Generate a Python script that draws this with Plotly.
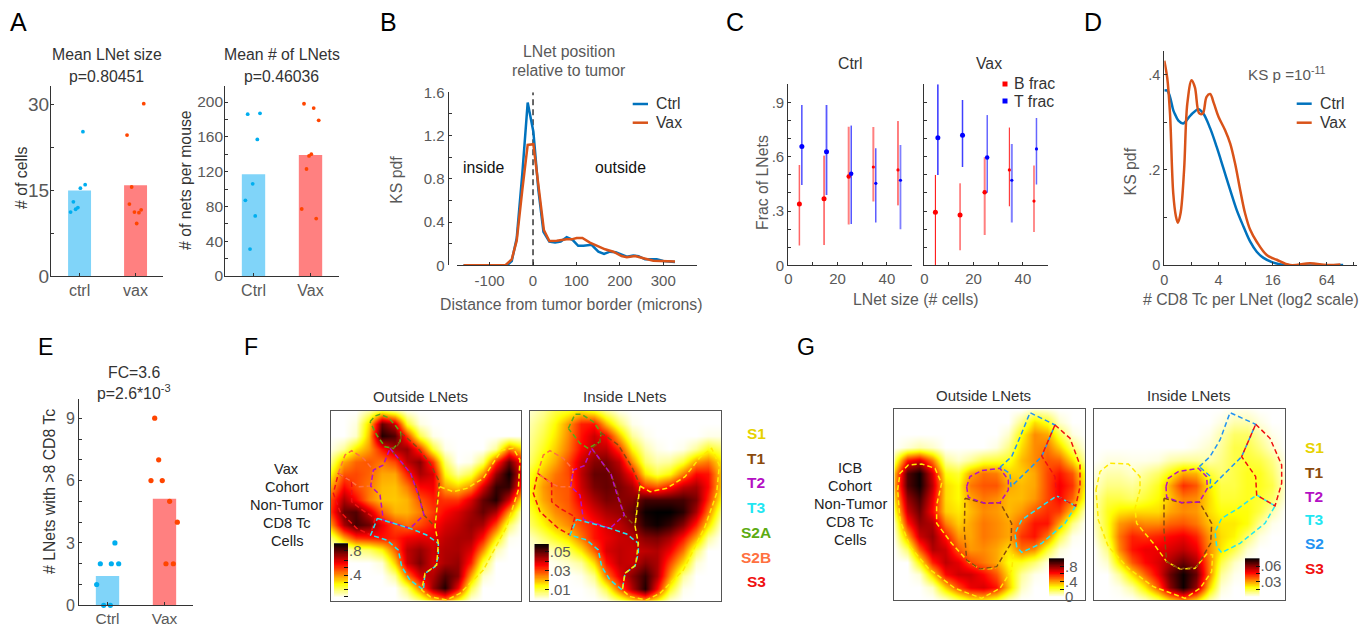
import plotly.graph_objects as go

W, H = 1366, 626
FONT = "Liberation Sans"
GREY, DARK = "#595959", "#333333"
BAR_CTRL, BAR_VAX = "#80D4F9", "#FF8080"
DOT_CTRL, DOT_VAX = "#00AEEF", "#FF4500"
LINE_CTRL, LINE_VAX = "#0072BD", "#D95319"

# ---------- Panel A
A1_cats = ["ctrl", "vax"]
A1_means = [15.0, 15.9]
A1_ctrl_x = [1.06, 1.10, 1.015, 0.89, 0.97, 0.93, 0.84]
A1_ctrl_y = [25.3, 16.0, 15.4, 13.0, 12.0, 11.7, 11.2]
A1_vax_x = [2.146, 1.848, 1.93, 1.89, 1.98, 2.06, 2.10, 2.02]
A1_vax_y = [30.2, 24.7, 15.6, 12.6, 11.2, 11.1, 11.6, 9.2]
A2_cats = ["Ctrl", "Vax"]
A2_means = [117, 139]
A2_ctrl_x = [0.898, 1.114, 1.067, 0.986, 0.857, 1.03, 0.939]
A2_ctrl_y = [186, 187, 157, 106, 87, 69, 31]
A2_vax_x = [1.886, 2.056, 2.144, 2.014, 1.974, 1.93, 1.846, 2.10]
A2_vax_y = [198, 193, 179, 140, 138, 123, 77, 66]

# ---------- Panel B
B_ctrl_x = [-160, -60, -49, -37.6, -24.6, -12.3, 0.8, 12.3, 24, 37.6, 50.7, 63.7, 77.6, 91, 104, 116, 135, 150.5, 163.6, 177, 190.5, 216, 231, 243, 258, 285, 300, 327]
B_ctrl_y = [0, 0, .04, .25, .85, 1.505, 1.236, .70, .31, .22, .21, .22, .26, .235, .18, .18, .19, .126, .105, .126, .12, .08, .09, .085, .055, .055, .04, .03]
B_vax_x = [-160, -64, -49, -37.6, -24.6, -12.3, 0.8, 12.3, 25, 37.6, 54.5, 77.6, 89, 100.6, 113.7, 131, 147, 166, 185, 204, 216, 235, 250, 277, 327]
B_vax_y = [0, 0, .055, .228, .70, 1.113, 1.12, .743, .327, .225, .228, .24, .24, .253, .253, .21, .182, .148, .126, .086, .074, .086, .07, .043, .034]
B_border_x = [0, 0]
B_border_y = [0, 1.6]

# ---------- Panel C
C_b_x = [4.5, 14.5, 24.5, 34.5, 44.5]
C_t_x = [5.5, 15.5, 25.5, 35.5, 45.5]
C1_b_mean = [.339, .368, .49, .543, .527]
C1_b_hi = [.554, .606, .766, .764, .797]
C1_b_lo = [.109, .112, .225, .352, .331]
C1_t_mean = [.656, .628, .506, .453, .47]
C1_t_hi = [.886, .886, .772, .646, .665]
C1_t_lo = [.444, .389, .228, .236, .199]
C2_b_mean = [.293, .278, .403, .527, .355]
C2_b_hi = [.499, .453, .597, .761, .552]
C2_b_lo = [0, .083, .168, .326, .184]
C2_t_mean = [.705, .718, .595, .47, .643]
C2_t_hi = [1.0, .913, .83, .67, .814]
C2_t_lo = [.499, .543, .401, .236, .446]

# ---------- Panel D (x in log2 units)
D_ctrl_x = [0, .11, .21, .33, .39, .52, .70, .97, 1.26, 1.44, 1.69, 1.93, 2.18, 2.43, 2.67, 2.92, 3.17, 3.41, 3.66, 4.03, 4.5, 6.6]
D_ctrl_y = [.367, .367, .354, .326, .318, .304, .298, .315, .328, .319, .288, .249, .204, .158, .116, .081, .049, .028, .015, .005, 0, 0]
D_vax_x = [0, .11, .21, .33, .43, .5, .6, .73, .85, 1.01, 1.13, 1.29, 1.42, 1.56, 1.69, 1.83, 2, 2.24, 2.43, 2.61, 2.8, 2.98, 3.17, 3.41, 3.78, 4.15, 4.64, 5.38, 6, 6.5]
D_vax_y = [.43, .393, .319, .151, .102, .089, .109, .2, .34, .389, .374, .319, .319, .354, .36, .34, .312, .284, .256, .214, .158, .109, .074, .049, .021, .011, 0, .0035, 0, .001]

# ---------- Panel E
E_cats = ["Ctrl", "Vax"]
E_means = [1.41, 5.12]
E_ctrl_x = [1.13, .874, 1.067, 1.196, .81, .933, 1.05]
E_ctrl_y = [3, 2, 2, 2, 1, 0, 0]
E_vax_x = [1.828, 1.898, 1.763, 1.961, 2.09, 2.225, 2.026, 2.155]
E_vax_y = [9, 7, 6, 6, 5, 4, 2, 2]

# ---------- Density grids, values are 0-100 of each map's colour range
F1_heat = [
 [0,0,0,8,20,12,2,0,0,0,0,0,0,0,0,0],
 [0,0,3,30,85,70,22,3,0,0,0,0,0,0,0,0],
 [0,0,5,35,95,88,55,18,2,0,0,0,0,0,0,0],
 [2,10,28,40,60,75,78,55,20,2,0,0,0,10,45,30],
 [12,38,48,50,45,52,72,80,55,15,0,2,15,55,85,60],
 [25,50,52,48,38,38,58,75,68,25,10,18,42,78,98,65],
 [38,62,52,45,35,34,44,62,64,38,32,42,68,92,92,55],
 [52,75,62,44,34,33,36,50,58,55,55,68,85,95,70,25],
 [55,85,88,70,48,36,36,44,54,62,68,76,85,75,40,5],
 [40,75,90,84,65,52,46,52,60,68,72,78,75,52,15,0],
 [12,38,55,58,60,58,64,66,66,72,75,75,60,28,2,0],
 [0,4,12,15,25,48,72,78,70,74,75,68,42,8,0,0],
 [0,0,0,0,4,32,70,82,68,75,78,58,20,0,0,0],
 [0,0,0,0,0,10,45,68,74,88,80,38,5,0,0,0],
 [0,0,0,0,0,0,15,45,78,95,65,18,0,0,0,0],
 [0,0,0,0,0,0,2,12,30,40,22,2,0,0,0,0],
]
F2_heat = [
 [5,10,18,22,28,22,10,2,0,0,0,0,0,0,0,0],
 [8,15,25,40,58,60,35,15,2,0,0,0,0,0,0,0],
 [10,18,28,42,60,70,62,35,10,2,0,0,0,0,2,2],
 [12,22,32,45,62,72,72,55,25,8,2,0,2,10,22,15],
 [15,28,38,52,70,80,82,72,42,15,8,10,20,40,45,28],
 [22,35,45,52,72,85,85,78,62,28,18,25,45,62,60,32],
 [25,40,48,50,70,82,85,82,75,55,50,60,72,76,62,32],
 [25,38,46,50,65,75,82,80,80,90,90,90,90,82,56,24],
 [20,32,42,48,58,68,75,78,85,98,100,100,94,75,45,12],
 [15,25,35,42,52,60,68,72,80,94,98,92,80,58,30,4],
 [6,14,22,30,45,60,65,70,72,80,82,75,60,38,10,0],
 [2,5,8,15,28,48,68,72,70,72,74,64,45,15,0,0],
 [0,0,2,5,10,30,60,72,70,80,75,52,30,4,0,0],
 [0,0,0,0,2,12,45,65,80,92,75,40,10,0,0,0],
 [0,0,0,0,0,3,18,48,74,95,62,22,2,0,0,0],
 [0,0,0,0,0,0,3,14,28,36,24,4,0,0,0,0],
]
G1_heat = [
 [0,0,0,0,0,0,0,0,0,0,0,5,3,0,0,0],
 [0,0,0,0,0,0,0,0,0,0,12,30,22,5,0,0],
 [0,0,0,0,0,0,0,0,0,5,25,42,38,18,3,0],
 [0,4,8,5,0,0,0,0,3,12,30,42,45,32,14,2],
 [15,60,68,45,10,5,10,18,20,22,35,42,50,48,30,8],
 [35,88,98,68,24,20,38,46,44,32,32,38,52,60,50,22],
 [38,88,98,72,30,25,45,50,50,38,35,38,52,64,55,25],
 [30,78,90,66,30,25,38,45,42,35,35,40,52,62,48,20],
 [20,70,84,62,32,28,35,42,40,35,40,50,56,54,32,5],
 [8,58,78,74,44,32,38,45,42,38,48,60,60,38,12,0],
 [3,38,70,78,60,40,38,45,42,38,55,60,45,18,2,0],
 [0,15,50,74,70,50,40,42,38,30,46,42,20,4,0,0],
 [0,0,25,58,72,66,52,45,38,24,22,14,3,0,0,0],
 [0,0,4,32,62,70,70,62,50,30,10,2,0,0,0,0],
 [0,0,0,6,32,52,65,68,60,34,6,0,0,0,0,0],
 [0,0,0,0,4,15,25,28,20,6,0,0,0,0,0,0],
]
G2_heat = [
 [0,0,0,0,0,0,0,0,0,0,0,2,2,0,0,0],
 [0,0,0,0,0,0,0,0,0,0,3,8,8,3,0,0],
 [0,0,0,0,0,0,0,0,0,2,8,15,15,8,2,0],
 [0,0,0,0,0,0,0,0,2,5,10,18,18,12,5,0],
 [0,3,3,2,2,3,8,10,10,8,12,18,20,18,12,2],
 [3,8,8,5,10,15,25,38,36,20,14,18,22,22,15,3],
 [5,12,12,10,15,22,38,56,50,28,18,18,22,22,18,4],
 [8,18,18,15,20,25,34,44,42,30,20,20,22,20,15,3],
 [8,22,28,30,30,30,38,42,40,30,24,24,24,18,8,0],
 [6,22,40,45,42,42,48,50,45,34,28,28,24,10,2,0],
 [3,20,45,58,55,58,62,65,58,40,30,26,14,3,0,0],
 [0,12,42,60,65,65,68,72,65,42,28,18,5,0,0,0],
 [0,5,28,50,62,68,75,85,75,45,18,6,0,0,0,0],
 [0,0,10,30,48,65,85,98,85,45,10,2,0,0,0,0],
 [0,0,2,10,28,50,80,98,78,32,4,0,0,0,0,0],
 [0,0,0,0,5,15,30,42,30,8,0,0,0,0,0,0],
]

# ---------- Region outlines, in each map's own coordinates
F1_S1 = [(360,320),(400,335),(440,325),(490,295),(545,210),(580,205),(600,240),(595,330),(560,440),(490,570),(420,640),(380,660),(330,650),(305,630),(315,580),(350,555),(355,490),(345,440),(358,320)]
F1_T1 = [(243,158),(290,200),(330,250),(358,305),(352,360),(345,440),(312,405),(295,340),(275,285),(240,240),(210,205),(230,200),(243,180),(243,158)]
F1_T2 = [(210,205),(240,240),(272,280),(295,345),(312,405),(270,445),(190,420),(180,345),(152,318),(160,270),(190,255),(210,205)]
F1_T3 = [(172,415),(270,445),(320,465),(355,490),(355,530),(345,560),(315,580),(310,630),(270,600),(245,560),(235,510),(200,480),(152,465),(172,415)]
F1_S2A = [(150,125),(165,108),(180,103),(205,113),(225,135),(243,158),(240,185),(220,205),(195,200),(170,165),(150,125)]
F1_S2B = [(55,280),(75,225),(95,212),(130,235),(160,270),(152,318),(115,320),(95,305),(55,280)]
F1_S3 = [(55,280),(95,305),(95,365),(120,385),(165,415),(152,465),(110,445),(60,395),(40,340),(55,280)]

F2_S1 = [(345,318),(375,335),(425,325),(480,290),(525,232),(560,205),(583,255),(575,340),(540,440),(475,570),(405,640),(365,660),(315,650),(292,630),(300,580),(332,555),(340,490),(330,438),(345,318)]
F2_T1 = [(228,158),(280,195),(320,260),(345,315),(335,380),(330,438),(298,405),(275,330),(258,283),(225,240),(200,205),(225,185),(228,158)]
F2_T2 = [(200,205),(225,240),(258,283),(275,340),(298,405),(255,445),(175,418),(165,345),(137,320),(145,270),(178,257),(200,205)]
F2_T3 = [(155,418),(255,445),(305,462),(340,490),(340,520),(330,558),(300,580),(292,630),(255,600),(230,560),(220,510),(185,480),(135,465),(155,418)]
F2_S2A = [(130,145),(150,103),(170,103),(205,125),(228,158),(225,185),(190,205),(165,190),(130,145)]
F2_S2B = [(38,280),(55,225),(75,212),(115,235),(145,270),(137,320),(100,320),(80,310),(38,280)]
F2_S3 = [(38,280),(80,310),(80,365),(105,385),(150,410),(135,465),(100,445),(45,395),(25,340),(38,280)]

G1_S1 = [(38,330),(45,280),(70,255),(110,252),(150,265),(170,310),(155,375),(155,430),(200,490),(250,545),(285,567),(330,565),(365,522),(385,525),(380,570),(345,625),(290,655),(210,625),(130,565),(75,500),(45,420),(38,330)]
G1_T1 = [(240,355),(300,370),(345,368),(380,430),(378,490),(335,560),(285,567),(245,540),(238,450),(240,355)]
G1_T2 = [(245,320),(255,290),(290,272),(345,265),(370,300),(370,330),(345,368),(300,370),(250,352),(245,320)]
G1_T3 = [(572,378),(515,348),(460,385),(410,420),(390,460),(395,500),(410,517),(470,490),(540,430),(572,378)]
G1_S2 = [(345,262),(380,230),(410,160),(435,98),(510,135),(470,230),(425,275),(378,320),(375,280),(345,262)]
G1_S3 = [(510,135),(555,175),(585,255),(585,320),(572,378),(515,348),(510,290),(470,228),(510,135)]

G2_S1 = [(18,330),(30,275),(60,250),(115,252),(150,290),(150,330),(135,385),(140,430),(190,490),(230,545),(270,567),(315,565),(350,522),(368,525),(365,575),(330,625),(285,655),(190,620),(115,565),(55,500),(25,420),(18,330)]
G2_T1 = [(222,355),(275,368),(328,366),(365,430),(362,490),(320,560),(270,567),(230,545),(222,450),(222,355)]
G2_T2 = [(228,320),(235,295),(265,275),(325,265),(350,290),(352,325),(328,366),(275,368),(230,352),(228,320)]
G2_T3 = [(555,378),(500,345),(445,385),(395,415),(375,455),(380,500),(395,518),(450,490),(525,430),(555,378)]
G2_S2 = [(328,260),(360,230),(390,180),(420,98),(497,133),(455,230),(405,280),(360,325),(362,290),(328,260)]
G2_S3 = [(497,133),(540,175),(575,255),(575,310),(555,378),(500,345),(497,290),(455,230),(497,133)]

REGION_COL = {"S1": "#FFEA00", "T1": "#8B4A0C", "T2": "#B410C4", "T3": "#22E6F2",
              "S2A": "#5CAB12", "S2B": "#FF7040", "S3": "#F01010", "S2": "#2393F2"}
LABEL_COL = dict(REGION_COL, S1="#E6D200")
HOT = [[0, "#FFFFFF"], [.25, "#FFFF00"], [.625, "#FF0000"], [1, "#000000"]]

fig = go.Figure()
axes = {}
annots, shapes = [], []
n_axes = 0


def fx(p):
    return p / W


def fy(p):
    return 1 - p / H


def new_axes(x0, x1, ytop, ybot, xcfg, ycfg, xsize=16, ysize=16):
    global n_axes
    n_axes += 1
    s = "" if n_axes == 1 else str(n_axes)
    base_x = dict(domain=[fx(x0), fx(x1)], anchor="y" + s, showgrid=False, zeroline=False,
                  showline=True, linecolor=DARK, linewidth=1.2, ticks="inside", ticklen=3,
                  tickcolor=DARK, tickfont=dict(family=FONT, size=xsize, color=GREY))
    base_y = dict(domain=[fy(ybot), fy(ytop)], anchor="x" + s, showgrid=False, zeroline=False,
                  showline=True, linecolor=DARK, linewidth=1.2, ticks="inside", ticklen=3,
                  tickcolor=DARK, tickfont=dict(family=FONT, size=ysize, color=GREY))
    base_x.update(xcfg)
    base_y.update(ycfg)
    axes["xaxis" + s] = base_x
    axes["yaxis" + s] = base_y
    return "x" + s, "y" + s


def text(px, py, t, size=15.8, color=DARK, angle=0, bold=False, anchor="center"):
    if bold:
        t = "<b>" + t + "</b>"
    annots.append(dict(x=fx(px), y=fy(py), xref="paper", yref="paper", text=t, showarrow=False,
                       textangle=angle, xanchor=anchor, yanchor="middle",
                       font=dict(family=FONT, size=size, color=color)))


def ticks(vals, labels):
    return dict(tickmode="array", tickvals=vals, ticktext=labels)


def bars_and_dots(xa, ya, cats, means, cx, cy, vx, vy, dot):
    fig.add_bar(x=[1, 2], y=means, width=.41, marker=dict(color=[BAR_CTRL, BAR_VAX], line_width=0),
                xaxis=xa, yaxis=ya, showlegend=False, name="mean")
    fig.add_scatter(x=cx, y=cy, mode="markers", marker=dict(size=dot, color=DOT_CTRL), xaxis=xa, yaxis=ya,
                    showlegend=False, name=cats[0], cliponaxis=False)
    fig.add_scatter(x=vx, y=vy, mode="markers", marker=dict(size=dot, color=DOT_VAX), xaxis=xa, yaxis=ya,
                    showlegend=False, name=cats[1], cliponaxis=False)


# A1
xa, ya = new_axes(51, 163, 86, 276,
                  dict(range=[.49, 2.49], **ticks([1, 2], A1_cats)),
                  dict(range=[0, 33.3], ticklabelstandoff=-3, **ticks([0, 7.5, 15, 22.5, 30], ["0", "", "15", "", "30"])),
                  ysize=19)
bars_and_dots(xa, ya, A1_cats, A1_means, A1_ctrl_x, A1_ctrl_y, A1_vax_x, A1_vax_y, 3.8)
# A2
xa, ya = new_axes(225.3, 339, 86, 276,
                  dict(range=[.505, 2.5], **ticks([1, 2], A2_cats)),
                  dict(range=[0, 218.4], ticklabelstandoff=-2, **ticks(list(range(0, 201, 20)),
                       ["0", "", "40", "", "80", "", "120", "", "160", "", "200"])),
                  ysize=15.5)
bars_and_dots(xa, ya, A2_cats, A2_means, A2_ctrl_x, A2_ctrl_y, A2_vax_x, A2_vax_y, 3.8)
text(106.7, 55, "Mean LNet size")
text(106.7, 76, "p=0.80451")
text(281.7, 55, "Mean # of LNets")
text(281.7, 76, "p=0.46036")
text(21, 178, "# of cells", angle=-90)
text(186, 180, "# of nets per mouse", angle=-90)

# B
xa, ya = new_axes(456.7, 696.7, 92.3, 265.3,
                  dict(range=[-175.8, 377], ticklabelstandoff=2,
                       **ticks([-100, 0, 100, 200, 300], ["-100", "0", "100", "200", "300"])),
                  dict(range=[0, 1.6], anchor="free", position=fx(447.7),
                       **ticks([0, .2, .4, .6, .8, 1, 1.2, 1.4, 1.6],
                               ["0", "", "0.4", "", "0.8", "", "1.2", "", "1.6"])),
                  xsize=15, ysize=15)
fig.add_scatter(x=B_border_x, y=B_border_y, mode="lines", line=dict(color="black", width=1.2, dash="6px,4px"),
                xaxis=xa, yaxis=ya, showlegend=False, name="tumor border")
fig.add_scatter(x=B_ctrl_x, y=B_ctrl_y, mode="lines", line=dict(color=LINE_CTRL, width=2.5), xaxis=xa, yaxis=ya,
                showlegend=False, name="Ctrl")
fig.add_scatter(x=B_vax_x, y=B_vax_y, mode="lines", line=dict(color=LINE_VAX, width=2.5), xaxis=xa, yaxis=ya,
                showlegend=False, name="Vax")
text(568.7, 51.7, "LNet position", color=GREY)
text(568.7, 70.7, "relative to tumor", color=GREY)
text(396.7, 180, "KS pdf", color=GREY, angle=-90)
text(571, 304, "Distance from tumor border (microns)", color=GREY)
text(483.3, 167.7, "inside", color="#111111")
text(620, 167.7, "outside", color="#111111")


def legend_line(x0, x1, y, col, label, tx):
    shapes.append(dict(type="line", xref="paper", yref="paper", x0=fx(x0), x1=fx(x1), y0=fy(y), y1=fy(y),
                       line=dict(color=col, width=2.5)))
    text(tx, y, label, anchor="left")


legend_line(632.7, 648, 104, LINE_CTRL, "Ctrl", 653.5)
legend_line(632.7, 648, 122.7, LINE_VAX, "Vax", 653.5)

# C
C_widths_1b = [1.5, 1, 2, 2, 1]
C_alpha_1b = [.6, 1, .5, .5, 1]
C_widths_1t = [1.3, 1.8, 1, 1.2, 1.8]
C_alpha_1t = [.8, .65, 1, .8, .5]
C_widths_2b = [1, 1, 2, 1, 1.5]
C_alpha_2b = [1, .9, .5, .9, .6]
C_widths_2t = [1.5, 1.5, 1, 2, 1.5]
C_alpha_2t = [.8, .75, .9, .5, .6]
C_sizes = [5, 5, 4.5, 3.2, 3.2]


def error_points(xa, ya, xs, mean, hi, lo, col, widths, alphas, name):
    for i in range(len(xs)):
        fig.add_scatter(x=[xs[i]], y=[mean[i]], mode="markers", xaxis=xa, yaxis=ya, showlegend=False, name=name,
                        marker=dict(size=C_sizes[i], color=col),
                        error_y=dict(type="data", symmetric=False, array=[hi[i] - mean[i]],
                                     arrayminus=[mean[i] - lo[i]], width=0, thickness=widths[i],
                                     color=f"rgba({'255,0,0' if col == '#FF0000' else '0,0,255'},{alphas[i]})"))


C_xtick = [0, 10, 20, 30, 40, 50]
C_xlab = ["0", "", "20", "", "40", ""]
xa, ya = new_axes(788.3, 912.3, 84.3, 265.3,
                  dict(range=[0, 50.3], **ticks(C_xtick, C_xlab)),
                  dict(range=[0, 1], **ticks([i / 10 for i in range(11)],
                                             ["0", "", "", ".3", "", "", ".6", "", "", ".9", ""])),
                  xsize=15, ysize=15)
error_points(xa, ya, C_b_x, C1_b_mean, C1_b_hi, C1_b_lo, "#FF0000", C_widths_1b, C_alpha_1b, "B frac")
error_points(xa, ya, C_t_x, C1_t_mean, C1_t_hi, C1_t_lo, "#0000FF", C_widths_1t, C_alpha_1t, "T frac")
xa, ya = new_axes(924.3, 1048.3, 84.3, 265.3,
                  dict(range=[0, 50.3], **ticks(C_xtick, C_xlab)),
                  dict(range=[0, 1], **ticks([i / 10 for i in range(11)], [""] * 11)),
                  xsize=15, ysize=15)
error_points(xa, ya, C_b_x, C2_b_mean, C2_b_hi, C2_b_lo, "#FF0000", C_widths_2b, C_alpha_2b, "B frac")
error_points(xa, ya, C_t_x, C2_t_mean, C2_t_hi, C2_t_lo, "#0000FF", C_widths_2t, C_alpha_2t, "T frac")
text(850, 63, "Ctrl")
text(989, 63, "Vax")
text(762, 183, "Frac of LNets", color=GREY, angle=-90)
text(915.7, 299, "LNet size (# cells)", color=GREY)
for col, y, lab in (("#FF0000", 84, "B frac"), ("#0000FF", 101, "T frac")):
    shapes.append(dict(type="rect", xref="paper", yref="paper", x0=fx(1002.5), x1=fx(1007.5), y0=fy(y - 2.5),
                       y1=fy(y + 2.5), fillcolor=col, line_width=0))
    text(1011.5, y, lab, anchor="left")

# D
xa, ya = new_axes(1164.3, 1356.7, 50.7, 265,
                  dict(range=[0, 7.1], ticklabelstandoff=1,
                       **ticks([0, 1, 2, 3, 4, 5, 6, 7], ["0", "", "4", "", "16", "", "64", ""])),
                  dict(range=[0, .451], **ticks([0, .1, .2, .3, .4], ["0", "", ".2", "", ".4"])),
                  xsize=14.5, ysize=14.5)
fig.add_scatter(x=D_ctrl_x, y=D_ctrl_y, mode="lines", line=dict(color=LINE_CTRL, width=2.5, shape="spline"),
                xaxis=xa, yaxis=ya, showlegend=False, name="Ctrl", cliponaxis=False)
fig.add_scatter(x=D_vax_x, y=D_vax_y, mode="lines", line=dict(color=LINE_VAX, width=2.5, shape="spline"),
                xaxis=xa, yaxis=ya, showlegend=False, name="Vax", cliponaxis=False)
text(1286.7, 73.7, "KS p =10<sup>-11</sup>", 15.2, GREY)
text(1130.7, 171.7, "KS pdf", color=GREY, angle=-90)
text(1251, 299, "# CD8 Tc per LNet (log2 scale)", color=GREY)
legend_line(1296.7, 1311.7, 103.7, LINE_CTRL, "Ctrl", 1318)
legend_line(1296.7, 1311.7, 122.7, LINE_VAX, "Vax", 1318)

# E
xa, ya = new_axes(79.3, 192.7, 399.3, 605.3,
                  dict(range=[.505, 2.495], ticklabelstandoff=-1, **ticks([1, 2], E_cats)),
                  dict(range=[0, 9.91], **ticks(list(range(10)),
                       ["0", "", "", "3", "", "", "6", "", "", "9"])), xsize=15.5)
bars_and_dots(xa, ya, E_cats, E_means, E_ctrl_x, E_ctrl_y, E_vax_x, E_vax_y, 5.2)
text(134, 372.7, "FC=3.6")
text(134, 391.7, "p=2.6*10<sup>-3</sup>")
text(49.3, 491.7, "# LNets with >8 CD8 Tc", angle=-90)

# Colour key scale shared by the maps
KEY_LEVELS = [[v] for v in range(101)]


# F, G
def density(box, crop, heat, regions, cbar, cvals, clabels, csize):
    """box is the map's range in its own coordinates, cbar holds x, top, bottom, width of the key."""
    x0, x1, y0, y1, xa_lo, xa_hi, ya_lo, ya_hi = box + crop
    xa, ya = new_axes(x0, x1, y0, y1,
                      dict(range=[xa_lo, xa_hi], ticks="", showticklabels=False, mirror=True, linecolor="#555555",
                           linewidth=1),
                      dict(range=[ya_hi, ya_lo], ticks="", showticklabels=False, mirror=True, linecolor="#555555",
                           linewidth=1))
    n = len(heat)
    xs = [xa_lo + (xa_hi - xa_lo) * i / (n - 1) for i in range(n)]
    ys = [ya_lo + (ya_hi - ya_lo) * i / (n - 1) for i in range(n)]
    fig.add_heatmap(x=xs, y=ys, z=heat, zmin=0, zmax=100, colorscale=HOT, zsmooth="best", xaxis=xa, yaxis=ya,
                    showscale=False)
    for name, pts in regions:
        fig.add_scatter(x=[p[0] for p in pts], y=[p[1] for p in pts], mode="lines", xaxis=xa, yaxis=ya,
                        line=dict(color=REGION_COL[name], width=1.5, dash="5px,3px"), showlegend=False, name=name,
                        hoverinfo="skip")
    cx, ctop, cbot, cw = cbar
    xk, yk = new_axes(cx, cx + cw, ctop, cbot,
                      dict(visible=False, range=[-.5, .5]),
                      dict(range=[0, 100], side="right", showline=False, ticklen=4, tickcolor="#111111",
                           tickfont=dict(family=FONT, size=csize, color=GREY), **ticks(cvals, clabels)))
    fig.add_heatmap(z=KEY_LEVELS, x=[0], y=list(range(101)), zmin=0, zmax=100, colorscale=HOT, xaxis=xk, yaxis=yk,
                    showscale=False, hoverinfo="skip")


CB_F1_vals = [3, 16, 29, 42, 55, 68, 87]
CB_F1_text = ["", "", "", ".4", "", "", ".8"]
CB_F2_vals = [18, 35, 52, 69, 86]
CB_F2_text = [".01", "", ".03", "", ".05"]
CB_G1_vals = [2, 21, 40, 60, 79]
CB_G1_text = ["0", "", ".4", "", ".8"]
CB_G2_vals = [2, 21, 40, 60, 80]
CB_G2_text = ["", "", ".03", "", ".06"]

density([330.7, 521.3, 410.7, 600.7], [32, 604, 92, 662], F1_heat,
        [("S3", F1_S3), ("S2B", F1_S2B), ("S2A", F1_S2A), ("T1", F1_T1), ("T2", F1_T2), ("T3", F1_T3), ("S1", F1_S1)],
        (334, 543.3, 598, 14), CB_F1_vals, CB_F1_text, 15)
density([530, 721, 410.7, 601], [15, 588, 92, 663], F2_heat,
        [("S3", F2_S3), ("S2B", F2_S2B), ("S2A", F2_S2A), ("T1", F2_T1), ("T2", F2_T2), ("T3", F2_T3), ("S1", F2_S1)],
        (534.3, 544, 600, 14.5), CB_F2_vals, CB_F2_text, 15)
density([894.3, 1085, 409.3, 600], [28, 600, 88, 660], G1_heat,
        [("S1", G1_S1), ("T1", G1_T1), ("T2", G1_T2), ("T3", G1_T3), ("S2", G1_S2), ("S3", G1_S3)],
        (1049, 558.3, 597.3, 15), CB_G1_vals, CB_G1_text, 15)
density([1094, 1285, 409.3, 600], [12, 585, 88, 660], G2_heat,
        [("S1", G2_S1), ("T1", G2_T1), ("T2", G2_T2), ("T3", G2_T3), ("S2", G2_S2), ("S3", G2_S3)],
        (1245, 558.3, 597.3, 14.5), CB_G2_vals, CB_G2_text, 15)

text(420, 396.7, "Outside LNets", 15)
text(624, 396.7, "Inside LNets", 15)
text(983.7, 395.7, "Outside LNets", 15)
text(1188, 395.7, "Inside LNets", 15)
for i, line in enumerate(["Vax", "Cohort", "Non-Tumor", "CD8 Tc", "Cells"]):
    text(286.7, 469 + 18 * i, line, 14.6, "#222222")
for i, line in enumerate(["ICB", "Cohort", "Non-Tumor", "CD8 Tc", "Cells"]):
    text(850, 467.7 + 18 * i, line, 14.6, "#222222")
for name, y in zip(["S1", "T1", "T2", "T3", "S2A", "S2B", "S3"], [433, 458, 482, 507, 532, 557, 581]):
    text(756, y, name, 15.5, LABEL_COL[name], bold=True)
for name, y in zip(["S1", "T1", "T2", "T3", "S2", "S3"], [447, 472, 496, 519, 543, 568]):
    text(1314, y, name, 15.5, LABEL_COL[name], bold=True)

for letter, px, py, size in (("A", 18, 22, 25), ("B", 388, 22, 25), ("C", 735, 22, 25), ("D", 1093, 22, 25),
                             ("E", 45, 347, 23), ("F", 251, 347, 23), ("G", 806, 347, 23)):
    text(px, py, letter, size, "#000000")

fig.update_layout(width=W, height=H, margin=dict(l=0, r=0, t=0, b=0, autoexpand=False), paper_bgcolor="white",
                  plot_bgcolor="white", showlegend=False, annotations=annots, shapes=shapes, barmode="overlay", **axes)
fig.write_html("out.html", config=dict(displayModeBar=False),
               post_script="document.body.style.margin='0';document.documentElement.style.overflow='hidden';")
